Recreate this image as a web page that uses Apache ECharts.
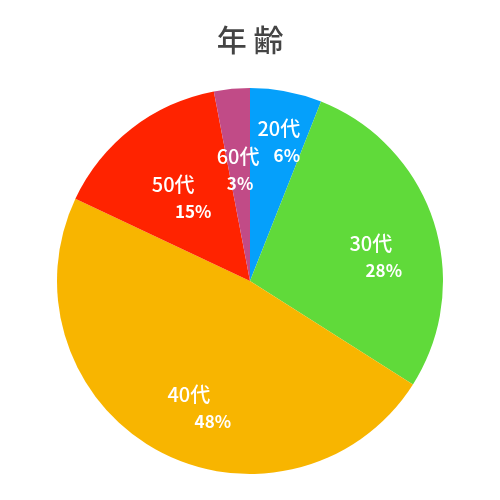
<!DOCTYPE html>
<html>
<head>
<meta charset="utf-8">
<script src="https://cdn.jsdelivr.net/npm/echarts@6/dist/echarts.min.js"></script>
<style>html,body{margin:0;padding:0;background:#fff;}#c{width:500px;height:500px;}</style>
</head>
<body>
<div id="c"></div>
<script>
var titleText = '年 齢';
var categories = ['20代', '30代', '40代', '50代', '60代'];
var values = [6, 28, 48, 15, 3];
var colors = ['#05a0fb', '#60da3a', '#f8b500', '#ff2300', '#c14b87'];
var pctShift = [16, 26, 48, 40, 4];
var labelOffsets = [[5, -14], [0, 15], [0, 16], [1, 17], [0, 15]];

var chart = echarts.init(document.getElementById('c'));
var mainData = categories.map(function (c, i) {
  return { name: c, value: values[i], itemStyle: { color: colors[i] } };
});
var labelData = categories.map(function (c, i) {
  var rich = {};
  rich.n = { fontSize: 20, fontWeight: 500, color: '#fff', lineHeight: 27, fontFamily: 'Noto Sans CJK JP' };
  rich.p = { fontSize: 17, fontWeight: 'bold', color: '#fff', lineHeight: 27, padding: [0, 0, 0, pctShift[i]], fontFamily: 'Noto Sans CJK JP' };
  return {
    name: c, value: values[i],
    label: { offset: labelOffsets[i], rich: rich }
  };
});
chart.setOption({
  animation: false,
  title: {
    text: titleText, left: 'center', top: 20,
    textStyle: { fontSize: 30, fontWeight: 500, color: '#444', fontFamily: 'Noto Sans CJK JP' }
  },
  series: [{
    type: 'pie',
    radius: 193,
    center: [250, 281],
    startAngle: 90,
    clockwise: true,
    data: mainData,
    label: { show: false },
    labelLine: { show: false },
    silent: true,
    itemStyle: { borderWidth: 0 }
  }, {
    type: 'pie',
    radius: [55, 193],
    center: [250, 281],
    startAngle: 90,
    clockwise: true,
    avoidLabelOverlap: false,
    data: labelData,
    silent: true,
    itemStyle: { color: 'rgba(0,0,0,0)', borderWidth: 0 },
    labelLine: { show: false },
    labelLayout: { hideOverlap: false },
    label: {
      show: true,
      position: 'inside',
      formatter: function (p) { return '{n|' + p.name + '}\n{p|' + p.value + '%}'; },
      color: '#fff'
    }
  }]
});
</script>
</body>
</html>
